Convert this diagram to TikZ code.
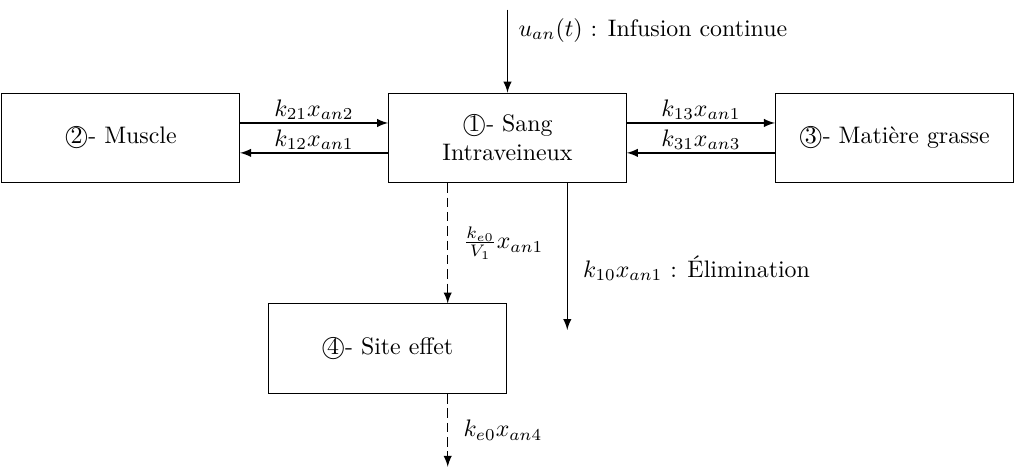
\documentclass[tikz,border=0pt]{standalone}
\usepackage{amsmath}
\usetikzlibrary{arrows.meta, positioning, calc}

\begin{document}
\begin{tikzpicture}[
  comp/.style={
    rectangle, draw=black, fill=white,
    minimum width=3.5cm, minimum height=1.32cm,
    align=center, inner sep=2pt
  },
  lbl/.style={inner sep=1pt},
  flux/.style={-latex, semithick},
  fluxd/.style={-latex, semithick, dashed, dash pattern=on 4pt off 2pt}
]
  \useasboundingbox (0,0) rectangle (14.94,-6.89);

  \node[comp] (sang) at (7.47,-2.03) {\textcircled{1}- Sang\\Intraveineux};
  \node[comp, left=2.18cm of sang]  (muscle) {\textcircled{2}- Muscle};
  \node[comp, right=2.18cm of sang] (graisse){\textcircled{3}- Mati\`ere grasse};
  \node[comp, below=1.77cm of sang, xshift=-1.77cm] (site) {\textcircled{4}- Site effet};

  \coordinate (uin)  at ([yshift=1.22cm]sang.north);
  \coordinate (sdep) at ([xshift=-0.88cm]sang.south);
  \coordinate (elim) at ([xshift=0.88cm,yshift=-2.16cm]sang.south);
  \coordinate (sout) at ($(sdep |- site.south)+(0,-1.07)$);

  % echanges entre compartiments
  \draw[flux] ([yshift=0.22cm]muscle.east) -- ([yshift=0.22cm]sang.west)
    node[midway, above, lbl]{$k_{21}x_{an2}$};
  \draw[flux] ([yshift=-0.22cm]sang.west) -- ([yshift=-0.22cm]muscle.east)
    node[midway, above, lbl]{$k_{12}x_{an1}$};
  \draw[flux] ([yshift=0.22cm]sang.east) -- ([yshift=0.22cm]graisse.west)
    node[midway, above, lbl]{$k_{13}x_{an1}$};
  \draw[flux] ([yshift=-0.22cm]graisse.west) -- ([yshift=-0.22cm]sang.east)
    node[midway, above, lbl]{$k_{31}x_{an3}$};

  % entree et sorties
  \draw[flux] (uin) -- (sang.north)
    node[near start, right=1pt]{$u_{an}(t)$ : Infusion continue};
  \draw[flux] ([xshift=0.88cm]sang.south) -- (elim)
    node[pos=0.58, right=3pt]{$k_{10}x_{an1}$ : \'Elimination};
  \draw[fluxd] (sdep) -- (sdep |- site.north)
    node[midway, right=3pt]{$\frac{k_{e0}}{V_1}x_{an1}$};
  \draw[fluxd] (sdep |- site.south) -- (sout)
    node[midway, right=3pt]{$k_{e0}x_{an4}$};
\end{tikzpicture}
\end{document}
